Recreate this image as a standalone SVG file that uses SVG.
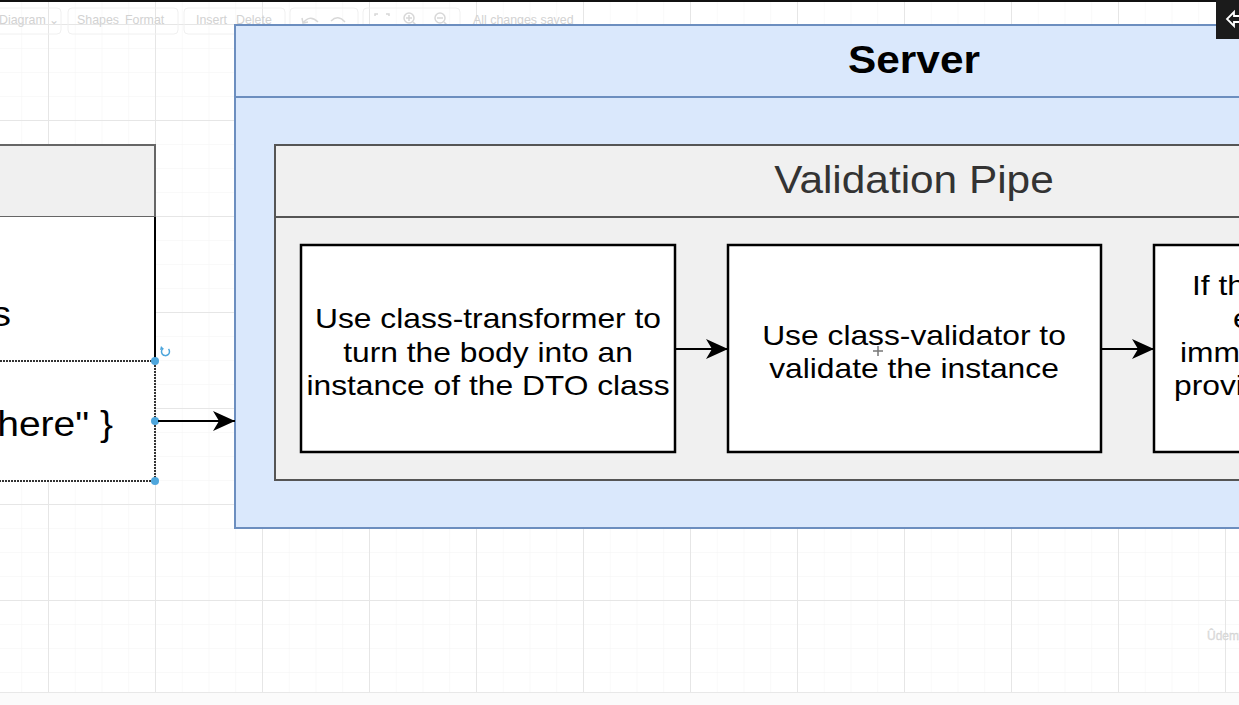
<svg xmlns="http://www.w3.org/2000/svg" width="1239" height="705" viewBox="0 0 1239 705">
<style>
text{font-family:"Liberation Sans",Arial,sans-serif}
.t{font-size:28.5px;fill:#000}
.big{font-size:35px;fill:#000}
.ui{font-size:12.4px;fill:#d2d2d2}
.tb{fill:none;stroke:#f0f0f0}
.ic{fill:none;stroke:#d8d8d8;stroke-width:1.5}
.box{fill:#fff;stroke:#000;stroke-width:2.5}
.edge{stroke:#000;stroke-width:2;fill:none;marker-end:url(#arr)}
.h{fill:#4ea6dc}
</style>
<defs>
<pattern id="minor" patternUnits="userSpaceOnUse" x="21.25" y="0" width="26.75" height="24">
<path d="M0,0 V24 M0,0 H26.75" stroke="#f3f3f3" stroke-width="1" fill="none"/>
</pattern>
<pattern id="major" patternUnits="userSpaceOnUse" x="48" y="24" width="107" height="96">
<path d="M0.5,0 V96 M0,0.5 H107" stroke="#e6e6e6" stroke-width="1" fill="none"/>
</pattern>
<marker id="arr" markerUnits="userSpaceOnUse" markerWidth="24" markerHeight="22" refX="22" refY="11" orient="auto">
<path d="M0,1 L22,11 L0,21 L6,11 Z" fill="#000"/>
</marker>
</defs>
<rect width="1239" height="705" fill="#fff"/>
<rect width="1239" height="692" fill="url(#minor)"/>
<rect width="1239" height="692" fill="url(#major)"/>
<line x1="0" y1="692.5" x2="1239" y2="692.5" stroke="#e8e8e8"/>
<rect x="0" y="693" width="1239" height="12" fill="#fbfbfb"/>
<rect x="0" y="0" width="1239" height="2" fill="#111"/>
<g id="toolbar">
<rect class="tb" x="-5" y="8" width="66" height="26" rx="4"/>
<rect class="tb" x="68" y="8" width="110" height="26" rx="4"/>
<rect class="tb" x="184" y="8" width="101" height="26" rx="4"/>
<rect class="tb" x="290" y="8" width="68" height="26" rx="4"/>
<rect class="tb" x="363" y="8" width="97" height="26" rx="4"/>
<text class="ui" x="-1" y="24">Diagram ⌄</text>
<text class="ui" x="77" y="24">Shapes</text>
<text class="ui" x="125" y="24">Format</text>
<text class="ui" x="196" y="24">Insert</text>
<text class="ui" x="236" y="24">Delete</text>
<path class="ic" d="M303,23 Q310,14 318,22 M302,18 L303,23 L308,22"/>
<path class="ic" d="M345,22 Q338,14 331,21"/>
<path class="ic" d="M375,16 V14 H378 M386,14 H389 V16 M389,24 V26 H386 M378,26 H375 V24"/>
<circle class="ic" cx="409" cy="18" r="5"/>
<path class="ic" d="M413,22 L417,26 M406,18 H412 M409,15 V21"/>
<circle class="ic" cx="440" cy="18" r="5"/>
<path class="ic" d="M444,22 L448,26 M437,18 H443"/>
<text class="ui" x="473" y="24">All changes saved</text>
</g>
<g id="server">
<rect x="235" y="25" width="1020" height="503" fill="#dae8fc" stroke="#6c8ebf" stroke-width="2"/>
<line x1="235" y1="97" x2="1239" y2="97" stroke="#6c8ebf" stroke-width="2"/>
<text transform="translate(914 73) scale(1.115 1)" text-anchor="middle" font-size="38" font-weight="bold">Server</text>
</g>
<g id="validation-pipe">
<rect x="275" y="145" width="980" height="335" fill="#f0f0f0" stroke="#555" stroke-width="2"/>
<line x1="275" y1="217" x2="1239" y2="217" stroke="#555" stroke-width="2"/>
<text transform="translate(914 193) scale(1.115 1)" text-anchor="middle" font-size="38" fill="#333">Validation Pipe</text>
</g>
<g id="transform-box">
<rect class="box" x="301" y="245" width="374" height="207"/>
<text class="t" text-anchor="middle" transform="translate(488 328) scale(1.115 1)">Use class-transformer to</text>
<text class="t" text-anchor="middle" transform="translate(488 362) scale(1.115 1)">turn the body into an</text>
<text class="t" text-anchor="middle" transform="translate(488 395) scale(1.115 1)">instance of the DTO class</text>
</g>
<g id="validate-box">
<rect class="box" x="728" y="245" width="373" height="207"/>
<text class="t" text-anchor="middle" transform="translate(914 345) scale(1.115 1)">Use class-validator to</text>
<text class="t" text-anchor="middle" transform="translate(914 378) scale(1.115 1)">validate the instance</text>
</g>
<g id="errors-box">
<rect class="box" x="1154" y="245" width="373" height="207"/>
<text class="t" transform="translate(1192 295) scale(1.115 1)">If th</text>
<text class="t" transform="translate(1233 328) scale(1.115 1)">e</text>
<text class="t" transform="translate(1180 362) scale(1.115 1)">imm</text>
<text class="t" transform="translate(1174 395) scale(1.115 1)">provi</text>
</g>
<g id="request-node">
<rect x="-5" y="145" width="160" height="72" fill="#f0f0f0" stroke="#666" stroke-width="2"/>
<rect x="-5" y="217" width="160" height="144" fill="#fff"/>
<line x1="155" y1="217" x2="155" y2="361" stroke="#000" stroke-width="2"/>
<text class="big" text-anchor="end" transform="translate(11 326) scale(1.115 1)">s</text>
<rect x="-5" y="361" width="160" height="120" fill="#fff"/>
<path d="M0,361 H155 V481 H0" fill="none" stroke="#333" stroke-width="2" stroke-dasharray="2 1"/>
<text class="big" text-anchor="end" transform="translate(113 436) scale(1.115 1)">here" }</text>
<circle class="h" cx="155" cy="361" r="4"/>
<circle class="h" cx="155" cy="421" r="4"/>
<circle class="h" cx="155" cy="481" r="4"/>
<path d="M168.5,349 A4,4 0 1 1 163,348.5" fill="none" stroke="#4ea6dc" stroke-width="1.5"/>
<path d="M161,346 L164,349 L160,350 Z" fill="#4ea6dc"/>
</g>
<g id="connectors">
<line class="edge" x1="158" y1="421" x2="235" y2="421"/>
<line class="edge" x1="675" y1="349" x2="728" y2="349"/>
<line class="edge" x1="1101" y1="349" x2="1154" y2="349"/>
</g>
<g id="chrome">
<path d="M873,351 H883 M878,346 V356" stroke="#777" stroke-width="1.5"/>
<rect x="1216" y="0" width="23" height="39" fill="#1b1b1b"/>
<path d="M1239,16 H1234 V12 L1227,19 L1234,26 V22 H1239" stroke="#fff" stroke-width="1.8" fill="none"/>
<text x="1207" y="640" font-size="12" fill="#e0e0e0" stroke="#cfcfcf" stroke-width="0.3">Ûdemy</text>
</g>
</svg>
